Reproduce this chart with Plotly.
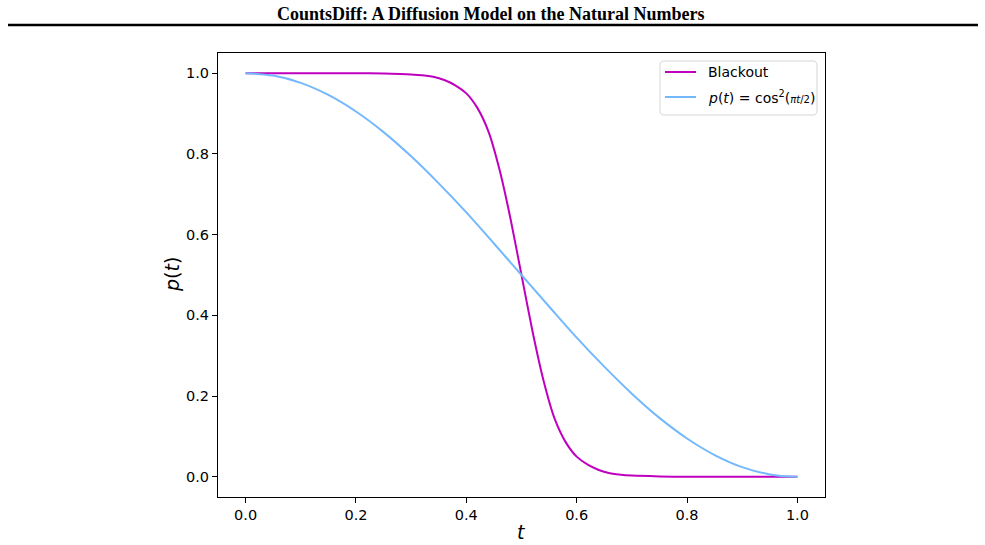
import plotly.graph_objects as go

# ---------------- data ----------------
blackout_t = [0.00, 0.10, 0.20, 0.25, 0.28, 0.30, 0.32, 0.34, 0.36, 0.38,
              0.40, 0.42, 0.44, 0.46, 0.48, 0.50, 0.52, 0.54, 0.56, 0.58,
              0.60, 0.62, 0.64, 0.66, 0.68, 0.70, 0.75, 0.80, 0.90, 1.00]
blackout_p = [1.000, 1.000, 1.000, 0.999, 0.998, 0.997, 0.995, 0.991, 0.983, 0.970,
              0.950, 0.914, 0.856, 0.762, 0.640, 0.500, 0.360, 0.238, 0.144, 0.086,
              0.050, 0.030, 0.017, 0.009, 0.005, 0.003, 0.001, 0.000, 0.000, 0.000]

cos_t = [0.00, 0.05, 0.10, 0.15, 0.20, 0.25, 0.30, 0.35, 0.40, 0.45, 0.50,
         0.55, 0.60, 0.65, 0.70, 0.75, 0.80, 0.85, 0.90, 0.95, 1.00]
cos_p = [1.000, 0.994, 0.976, 0.946, 0.905, 0.854, 0.794, 0.727, 0.655, 0.578, 0.500,
         0.422, 0.345, 0.273, 0.206, 0.146, 0.095, 0.054, 0.024, 0.006, 0.000]

tick_vals = [0.0, 0.2, 0.4, 0.6, 0.8, 1.0]
tick_text = ["0.0", "0.2", "0.4", "0.6", "0.8", "1.0"]

series_names = ["Blackout",
                "<i>p</i>(<i>t</i>) = cos<sup>2</sup>(<span style='font-size:10px'><i>πt</i>/2</span>)"]
series_colors = ["#bf00bf", "#74b9fd"]
header_text = "<b>CountsDiff: A Diffusion Model on the Natural Numbers</b>"

# ---------------- layout geometry (pixels) ----------------
W, H = 985, 545
L, R, T, B = 218, 825, 53, 497   # plot frame


def px(x):
    return (x - L) / (R - L)


def py(y):
    return (B - y) / (B - T)


fig = go.Figure()
fig.add_trace(go.Scatter(x=blackout_t, y=blackout_p, mode="lines",
                         line=dict(color=series_colors[0], width=2, shape="spline", smoothing=0.6),
                         name="Blackout", showlegend=False, hoverinfo="skip"))
fig.add_trace(go.Scatter(x=cos_t, y=cos_p, mode="lines",
                         line=dict(color=series_colors[1], width=2, shape="spline"),
                         name="cos2", showlegend=False, hoverinfo="skip"))

axis_common = dict(
    showgrid=False, zeroline=False, showline=True, linecolor="black", linewidth=1,
    mirror=True, ticks="outside", ticklen=5, tickwidth=1, tickcolor="black",
    tickvals=tick_vals, ticktext=tick_text,
    tickfont=dict(family="DejaVu Sans", size=14.5, color="black"),
)
fig.update_xaxes(range=[-0.05, 1.05], **axis_common)
fig.update_yaxes(range=[-0.05, 1.05], **axis_common)

shapes = []
annotations = []

# header line
shapes.append(dict(type="line", xref="paper", yref="paper",
                   x0=px(8), x1=px(978), y0=py(25), y1=py(25),
                   line=dict(color="black", width=2.5)))
annotations.append(dict(text=header_text, xref="paper", yref="paper",
                        x=px(491), y=py(14), showarrow=False,
                        xanchor="center", yanchor="middle",
                        font=dict(family="Liberation Serif", size=18, color="black")))

# axis titles
annotations.append(dict(text="<i>t</i>", xref="paper", yref="paper",
                        x=px(521), y=py(532), showarrow=False,
                        xanchor="center", yanchor="middle",
                        font=dict(family="DejaVu Sans", size=19, color="black")))
annotations.append(dict(text="<i>p</i>(<i>t</i>)", xref="paper", yref="paper",
                        x=px(172), y=py(275), showarrow=False, textangle=-90,
                        xanchor="center", yanchor="middle",
                        font=dict(family="DejaVu Sans", size=19, color="black")))

# legend box (rounded)
x0, x1, y0, y1, r = 660, 817, 61, 115, 4
def P(x, y):
    return f"{px(x):.5f},{py(y):.5f}"
path = (f"M {P(x0 + r, y0)} L {P(x1 - r, y0)} Q {P(x1, y0)} {P(x1, y0 + r)} "
        f"L {P(x1, y1 - r)} Q {P(x1, y1)} {P(x1 - r, y1)} "
        f"L {P(x0 + r, y1)} Q {P(x0, y1)} {P(x0, y1 - r)} "
        f"L {P(x0, y0 + r)} Q {P(x0, y0)} {P(x0 + r, y0)} Z")
shapes.append(dict(type="path", xref="paper", yref="paper", path=path,
                   fillcolor="rgba(255,255,255,0.8)",
                   line=dict(color="#d6d6d6", width=1)))

rows_y = [72, 97]
for name, color, yy in zip(series_names, series_colors, rows_y):
    shapes.append(dict(type="line", xref="paper", yref="paper",
                       x0=px(665), x1=px(696), y0=py(yy), y1=py(yy),
                       line=dict(color=color, width=2)))
    annotations.append(dict(text=name, xref="paper", yref="paper",
                            x=px(706), y=py(yy), showarrow=False,
                            xanchor="left", yanchor="middle",
                            font=dict(family="DejaVu Sans", size=14, color="black")))

fig.update_layout(
    width=W, height=H,
    margin=dict(l=L, r=W - R, t=T, b=H - B, pad=0),
    paper_bgcolor="white", plot_bgcolor="white",
    shapes=shapes, annotations=annotations,
    showlegend=False,
)

fig.write_html("out.html")
